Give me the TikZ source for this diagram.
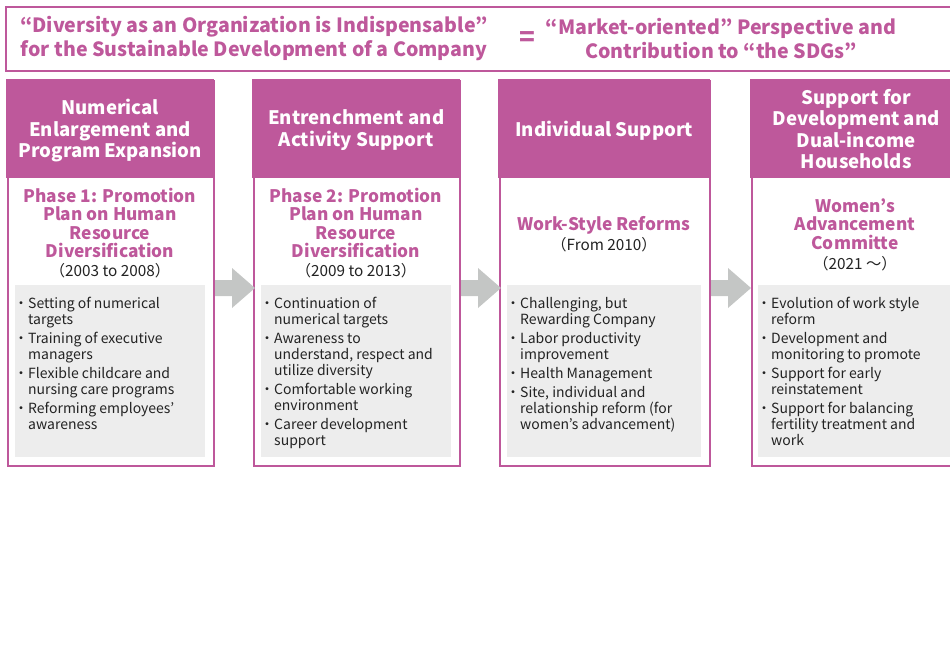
\documentclass[tikz,border=0pt]{standalone}
\usepackage{fontspec}
\setmainfont{Noto Sans CJK JP}
\definecolor{mag}{RGB}{190,88,155}
\definecolor{boxgray}{RGB}{237,237,237}
\definecolor{arrgray}{RGB}{196,198,197}
\definecolor{txt}{RGB}{35,35,35}
\newcommand\bl{・}
\newcommand\ci{\hphantom{・}}
\begin{document}
\begin{tikzpicture}[x=1pt,y=-1pt,
  topbox/.style={draw=mag, line width=2pt, anchor=north west, inner sep=0, minimum width=955pt, minimum height=64pt},
  toptext/.style={font=\fontsize{19.6}{24}\selectfont\bfseries, text=mag, align=center, inner sep=0},
  colbox/.style={draw=mag, line width=2pt, fill=white, anchor=north west, inner sep=0, minimum height=385pt},
  hdr/.style={fill=mag, anchor=north west, inner sep=0, minimum height=99pt},
  hdrtext/.style={text=white, font=\fontsize{18.6}{21.5}\selectfont\bfseries, align=center, inner sep=0},
  phase/.style={font=\fontsize{17.3}{18.5}\selectfont\bfseries, text=mag, align=center, inner sep=0},
  year/.style={font=\fontsize{15.3}{18}\selectfont, text=txt, inner sep=0},
  graybox/.style={fill=boxgray, anchor=north west, inner sep=0, minimum height=172pt},
  bullets/.style={font=\fontsize{14}{16}\selectfont, text=txt, align=left, anchor=north west, inner sep=0},
  flow/.style={fill=arrgray}
]
\useasboundingbox (0,0) rectangle (950,670);
\clip (0,0) rectangle (950,670);

% top banner
\node[topbox] (top) at (5,6) {};
\node[toptext] (tl) at (254,38) {“Diversity as an Organization is Indispensable”\\for the Sustainable Development of a Company};
\node[toptext] (tr) at (721,38) {“Market-oriented” Perspective and\\Contribution to “the SDGs”};
\node[font=\fontsize{26}{26}\selectfont\bfseries, text=mag, inner sep=0] (eq) at (527,39) {=};

% columns
\node[colbox, minimum width=206pt] (c1) at (7,80) {};
\node[colbox, minimum width=206pt] (c2) at (253,80) {};
\node[colbox, minimum width=210pt] (c3) at (499,80) {};
\node[colbox, minimum width=210pt] (c4) at (751,80) {};

% headers
\node[hdr, minimum width=208pt] (h1) at (6,79) {};
\node[hdr, minimum width=208pt] (h2) at (252,79) {};
\node[hdr, minimum width=212pt] (h3) at (498,79) {};
\node[hdr, minimum width=212pt] (h4) at (750,79) {};
\node[hdrtext] (ht1) at ([yshift=-2pt]h1.center) {Numerical\\Enlargement and\\Program Expansion};
\node[hdrtext] (ht2) at ([yshift=-1.5pt]h2.center) {Entrenchment and\\Activity Support};
\node[hdrtext] (ht3) at ([yshift=-1.5pt]h3.center) {Individual Support};
\node[hdrtext] (ht4) at ([yshift=-0.5pt]h4.center) {Support for\\Development and\\Dual-income\\Households};

% phase titles
\node[phase] (p1) at (110,223) {Phase 1: Promotion\\Plan on Human\\Resource\\Diversification};
\node[year] (y1) at (110,271) {（2003 to 2008）};
\node[phase] (p2) at (356,223) {Phase 2: Promotion\\Plan on Human\\Resource\\Diversification};
\node[year] (y2) at (356,271) {（2009 to 2013）};
\node[phase] (p3) at (604,225) {Work-Style Reforms};
\node[year] (y3) at (604,245) {（From 2010）};
\node[phase] (p4) at (855,224) {Women’s\\Advancement\\Committe};
\node[year] (y4) at (855,264) {（2021 ～）};

% gray boxes
\node[graybox, minimum width=190pt] (g1) at (15,285) {};
\node[graybox, minimum width=190pt] (g2) at (261,285) {};
\node[graybox, minimum width=194pt] (g3) at (507,285) {};
\node[graybox, minimum width=196pt] (g4) at (758,285) {};

\node[bullets] (b1) at (14,297) {\bl Setting of numerical\\\ci targets\\[3pt]\bl Training of executive\\\ci managers\\[3pt]\bl Flexible childcare and\\\ci nursing care programs\\[3pt]\bl Reforming employees’\\\ci awareness};
\node[bullets] (b2) at (260,297) {\bl Continuation of\\\ci numerical targets\\[3pt]\bl Awareness to\\\ci understand, respect and\\\ci utilize diversity\\[3pt]\bl Comfortable working\\\ci environment\\[3pt]\bl Career development\\\ci support};
\node[bullets] (b3) at (506,297) {\bl Challenging, but\\\ci Rewarding Company\\[3pt]\bl Labor productivity\\\ci improvement\\[3pt]\bl Health Management\\[3pt]\bl Site, individual and\\\ci relationship reform (for\\\ci women’s advancement)};
\node[bullets] (b4) at (757,297) {\bl Evolution of work style\\\ci reform\\[3pt]\bl Development and\\\ci monitoring to promote\\[3pt]\bl Support for early\\\ci reinstatement\\[3pt]\bl Support for balancing\\\ci fertility treatment and\\\ci work};

% flow arrows
\coordinate (a1) at ([yshift=-14.5pt]c1.east);
\coordinate (a2) at ([yshift=-14.5pt]c2.east);
\coordinate (a3) at ([yshift=-14.5pt]c3.east);
\foreach \a in {a1,a2,a3}{
  \fill[flow] (\a) ++(0,-8) -- ++(17,0) -- ++(0,-12) -- ++(23,20) -- ++(-23,20) -- ++(0,-12) -- ++(-17,0) -- cycle;
}
\end{tikzpicture}
\end{document}
